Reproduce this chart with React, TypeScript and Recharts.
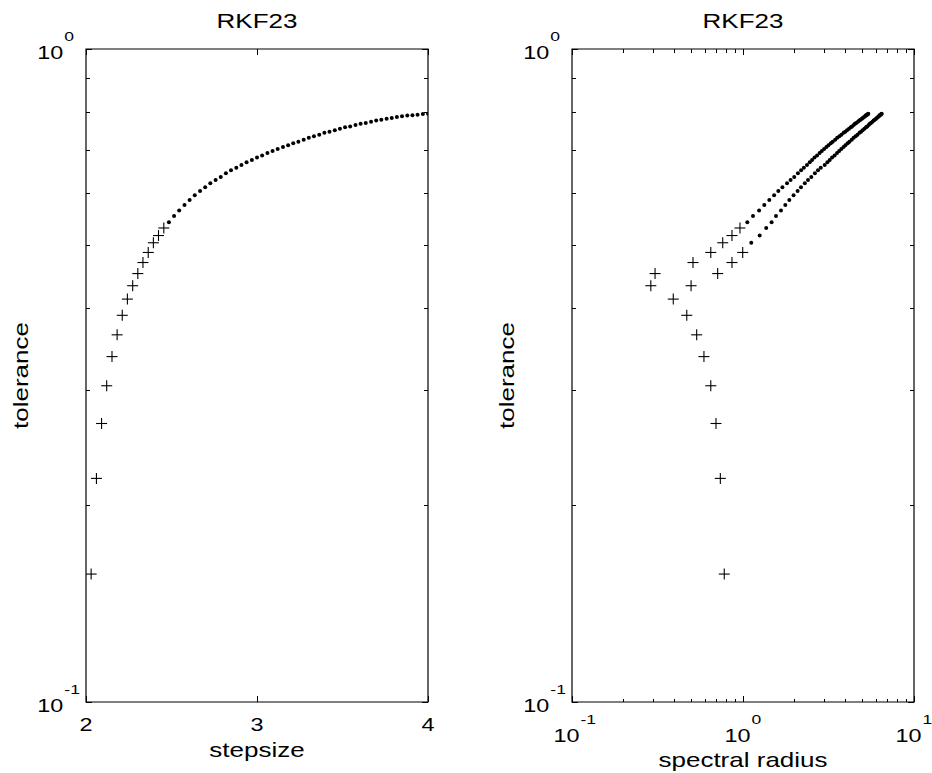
import React from 'react';
import { ScatterChart, Scatter, XAxis, YAxis, ReferenceArea, Label } from 'recharts';

// step sizes of the run (x of the left panel)
const stepsize = [
  2.030, 2.061, 2.091, 2.121, 2.152, 2.182, 2.212, 2.242, 2.273, 2.303, 2.333, 2.364, 2.394, 2.424, 2.455,
  2.485, 2.515, 2.545, 2.576, 2.606, 2.636, 2.667, 2.697, 2.727, 2.758, 2.788, 2.818, 2.848, 2.879, 2.909,
  2.939, 2.970, 3.000, 3.030, 3.061, 3.091, 3.121, 3.152, 3.182, 3.212, 3.242, 3.273, 3.303, 3.333, 3.364,
  3.394, 3.424, 3.455, 3.485, 3.515, 3.545, 3.576, 3.606, 3.636, 3.667, 3.697, 3.727, 3.758, 3.788, 3.818,
  3.848, 3.879, 3.909, 3.939, 3.970, 4.000,
];

// tolerance reached at each step size (y of both panels)
const tolerance = [
  0.157, 0.220, 0.267, 0.305, 0.338, 0.365, 0.391, 0.414, 0.434, 0.453, 0.471, 0.488, 0.505, 0.518, 0.532,
  0.543, 0.555, 0.566, 0.577, 0.587, 0.597, 0.606, 0.614, 0.623, 0.630, 0.637, 0.645, 0.652, 0.658, 0.664,
  0.671, 0.676, 0.682, 0.687, 0.693, 0.698, 0.703, 0.708, 0.712, 0.717, 0.721, 0.726, 0.731, 0.735, 0.739,
  0.744, 0.747, 0.751, 0.755, 0.759, 0.761, 0.765, 0.768, 0.770, 0.774, 0.777, 0.779, 0.782, 0.784, 0.787,
  0.789, 0.791, 0.792, 0.793, 0.795, 0.796,
];

// spectral radius, first branch (one per step size)
const radiusUpper = [
  0.777, 0.737, 0.695, 0.648, 0.591, 0.536, 0.469, 0.391, 0.289, 0.306, 0.510, 0.648, 0.761, 0.862, 0.960,
  1.060, 1.144, 1.242, 1.332, 1.425, 1.520, 1.609, 1.700, 1.809, 1.898, 1.993, 2.095, 2.186, 2.270, 2.367,
  2.456, 2.535, 2.619, 2.712, 2.806, 2.891, 2.981, 3.075, 3.159, 3.261, 3.347, 3.459, 3.558, 3.662, 3.763,
  3.875, 3.964, 4.057, 4.169, 4.270, 4.341, 4.440, 4.516, 4.595, 4.702, 4.784, 4.868, 4.955, 5.017, 5.107,
  5.170, 5.223, 5.257, 5.312, 5.379, 5.404,
];

// spectral radius, second branch (splits off from the 9th step size on)
const lowerStart = 8;
const radiusLower = [
  0.497, 0.711, 0.862, 0.996, 1.118, 1.252, 1.367,
  1.470, 1.559, 1.668, 1.768, 1.865, 1.976, 2.086, 2.183, 2.298, 2.399, 2.508, 2.633, 2.745, 2.850,
  3.004, 3.116, 3.215, 3.319, 3.433, 3.548, 3.651, 3.759, 3.871, 3.970, 4.091, 4.192, 4.322, 4.437, 4.556,
  4.672, 4.800, 4.900, 5.005, 5.131, 5.243, 5.323, 5.432, 5.516, 5.602, 5.718, 5.808, 5.901, 5.994, 6.059,
  6.156, 6.225, 6.281, 6.316, 6.376, 6.447, 6.472,
];

const stepTicks = [2, 3, 4];
const radiusTicks = [0.1, 0.2, 0.3, 0.4, 0.5, 0.6, 0.7, 0.8, 0.9, 1, 2, 3, 4, 5, 6, 7, 8, 9, 10];
const tolTicks = [0.1, 0.2, 0.3, 0.4, 0.5, 0.6, 0.7, 0.8, 0.9, 1];

const FONT = '"Liberation Sans", Arial, Helvetica, sans-serif';
const STRETCH = 1.3;
const CW = 466;
const CH = 773;
const TOP = 49;
const BOTTOM = 702;
const PH = BOTTOM - TOP;
const PW = 342;

const isPow10 = (v: number) => Math.abs(Math.log10(v) - Math.round(Math.log10(v))) < 1e-6;

const Txt = ({ x, y, size, anchor = 'middle', rotate = 0, children }: any) => (
  <text
    transform={`translate(${x} ${y}) rotate(${rotate}) scale(${STRETCH} 1)`}
    x={0}
    y={0}
    fontSize={size}
    fontFamily={FONT}
    textAnchor={anchor}
    fill="#000"
  >
    {children}
  </text>
);

const Pow = ({ x, y, v }: any) => (
  <g>
    <Txt x={x} y={y} size={18} anchor="end">10</Txt>
    <Txt x={x + 1} y={y - 18} size={13.5} anchor="start">{String(Math.round(Math.log10(v)))}</Txt>
  </g>
);

const tl = (x1: number, y1: number, x2: number, y2: number) => (
  <line x1={x1} y1={y1} x2={x2} y2={y2} stroke="#000" strokeWidth={1} shapeRendering="crispEdges" />
);

const LinXTick = ({ x, y, payload }: any) => (
  <g>
    {tl(x, y, x, y - 6)}
    {tl(x, y - PH, x, y - PH + 6)}
    <Txt x={x} y={y + 29} size={18}>{payload.value}</Txt>
  </g>
);

const LogXTick = ({ x, y, payload }: any) => {
  const major = isPow10(payload.value);
  const len = major ? 6 : 3.5;
  return (
    <g>
      {tl(x, y, x, y - len)}
      {tl(x, y - PH, x, y - PH + len)}
      {major && <Pow x={x + 7.5} y={y + 40} v={payload.value} />}
    </g>
  );
};

const LogYTick = ({ x, y, payload }: any) => {
  const major = isPow10(payload.value);
  const len = major ? 6 : 4;
  return (
    <g>
      {tl(x, y, x + len, y)}
      {tl(x + PW, y, x + PW - len, y)}
      {major && <Pow x={x - 22.7} y={y + 10} v={payload.value} />}
    </g>
  );
};

const Cross = (p: any) => {
  const { cx, cy } = p;
  if (cx == null || cy == null) return <g />;
  return (
    <g>
      <line x1={cx - 5.5} x2={cx + 5.5} y1={cy} y2={cy} stroke="#000" strokeWidth={1.1} />
      <line x1={cx} x2={cx} y1={cy - 5.5} y2={cy + 5.5} stroke="#000" strokeWidth={1.1} />
    </g>
  );
};

const Dot = (p: any) => {
  if (p.cx == null || p.cy == null) return <g />;
  return <circle cx={p.cx} cy={p.cy} r={2} fill="#000" />;
};

type Pt = { x: number; y: number };

const leftPts: Pt[] = stepsize.map((s, i) => ({ x: s, y: tolerance[i] }));
const leftCross = leftPts.filter((_, i) => radiusUpper[i] < 1);
const leftDots = leftPts.filter((_, i) => radiusUpper[i] >= 1);

const upperPts: Pt[] = radiusUpper.map((r, i) => ({ x: r, y: tolerance[i] }));
const lowerPts: Pt[] = radiusLower.map((r, i) => ({ x: r, y: tolerance[i + lowerStart] }));

const Title = ({ cx, text }: any) => (
  <div
    style={{
      position: 'absolute',
      left: cx - 100,
      top: 11,
      width: 200,
      textAlign: 'center',
      fontFamily: FONT,
      fontSize: 20,
      lineHeight: '20px',
      transform: `scaleX(${STRETCH})`,
      color: '#000',
    }}
  >
    {text}
  </div>
);

const Panel = ({ left, plotLeft, title, xLabel, xLabelY, xDomain, xTicks, xScale, XTick, series }: any) => {
  const cx = plotLeft + PW / 2;
  return (
    <div style={{ position: 'absolute', left, top: 0, width: CW, height: CH }}>
      <ScatterChart
        width={CW}
        height={CH}
        margin={{ top: TOP, right: CW - plotLeft - PW, bottom: CH - BOTTOM - 50, left: plotLeft - 60 }}
      >
        <XAxis
          type="number"
          dataKey="x"
          scale={xScale}
          domain={xDomain}
          ticks={xTicks}
          interval={0}
          allowDataOverflow
          height={50}
          axisLine={false}
          tickLine={false}
          tickSize={0}
          tickMargin={0}
          tick={<XTick />}
        >
          <Label content={() => <Txt x={cx} y={xLabelY} size={20}>{xLabel}</Txt>} />
        </XAxis>
        <YAxis
          type="number"
          dataKey="y"
          scale="log"
          domain={[0.1, 1]}
          ticks={tolTicks}
          interval={0}
          allowDataOverflow
          width={60}
          axisLine={false}
          tickLine={false}
          tickSize={0}
          tickMargin={0}
          tick={<LogYTick />}
        >
          <Label content={() => <Txt x={plotLeft - 58} y={TOP + PH / 2} size={20} rotate={-90}>tolerance</Txt>} />
        </YAxis>
        <ReferenceArea
          x1={xDomain[0]}
          x2={xDomain[1]}
          y1={0.1}
          y2={1}
          fill="none"
          fillOpacity={0}
          stroke="#000"
          strokeWidth={1.2}
          ifOverflow="visible"
        />
        {series.map((s: any, i: number) => (
          <Scatter key={i} data={s.data} shape={s.cross ? Cross : Dot} isAnimationActive={false} />
        ))}
      </ScatterChart>
      <Title cx={cx} text={title} />
    </div>
  );
};

export default function App() {
  return (
    <div style={{ position: 'absolute', left: 0, top: 0, width: 932, height: 773, background: '#fff' }}>
      <Panel
        left={0}
        plotLeft={86}
        title="RKF23"
        xLabel="stepsize"
        xLabelY={757}
        xDomain={[2, 4]}
        xTicks={stepTicks}
        xScale="linear"
        XTick={LinXTick}
        series={[
          { data: leftCross, cross: true },
          { data: leftDots, cross: false },
        ]}
      />
      <Panel
        left={CW}
        plotLeft={572 - CW}
        title="RKF23"
        xLabel="spectral radius"
        xLabelY={767}
        xDomain={[0.1, 10]}
        xTicks={radiusTicks}
        xScale="log"
        XTick={LogXTick}
        series={[
          { data: upperPts.filter((p) => p.x < 1), cross: true },
          { data: upperPts.filter((p) => p.x >= 1), cross: false },
          { data: lowerPts.filter((p) => p.x < 1), cross: true },
          { data: lowerPts.filter((p) => p.x >= 1), cross: false },
        ]}
      />
    </div>
  );
}
